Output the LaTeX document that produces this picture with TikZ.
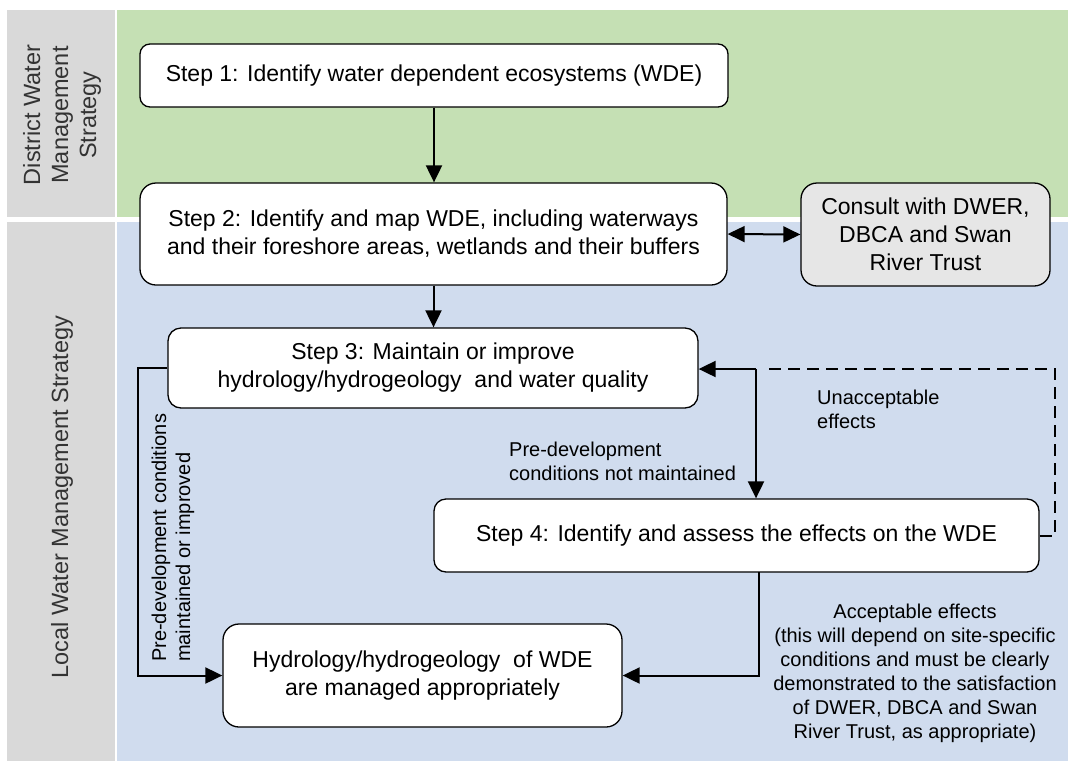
\documentclass[tikz,border=0pt]{standalone}
\usepackage{fontspec}
\setmainfont{Liberation Sans}
\usetikzlibrary{arrows.meta}

\definecolor{bandgreen}{HTML}{C5E0B4}
\definecolor{bandblue}{HTML}{D0DCEE}
\definecolor{bandgray}{HTML}{D9D9D9}
\definecolor{consultgray}{HTML}{E6E6E6}
\definecolor{sidetext}{HTML}{333333}

\newcommand\boxfont{\fontsize{23}{28}\selectfont}
\newcommand\sidefont{\fontsize{23.5}{28}\selectfont}
\newcommand\lblfont{\fontsize{20}{24}\selectfont}

\begin{document}
\begin{tikzpicture}[x=1pt, y=-1pt,
  stepbox/.style={draw, line width=1.3pt, fill=white, align=center,
                  font=\boxfont, inner sep=0pt},
  lbl/.style={font=\lblfont, inner sep=0pt},
  side/.style={font=\sidefont, text=sidetext, inner sep=0pt, align=center},
  conn/.style={line width=2pt, -{Triangle[length=17pt,width=16pt]}},
  biconn/.style={line width=2pt, {Triangle[length=17pt,width=16pt]}-{Triangle[length=17pt,width=16pt]}},
  dashconn/.style={line width=2pt, dash pattern=on 12pt off 7pt}]

% page and background bands
\useasboundingbox (0,0) rectangle (1068,761);
\fill[white] (0,0) rectangle (1068,761);
\fill[bandgray] (7,10) rectangle (115,217);
\fill[bandgray] (7,222) rectangle (115,761);
\fill[bandgreen] (117,10) rectangle (1068,217);
\fill[bandblue] (117,222) rectangle (1068,761);

% strategy labels
\node[side, rotate=90] (dws) at (62,115) {District Water\\Management\\Strategy};
\node[side, rotate=90] (lws) at (62,497) {Local Water Management Strategy};

% process boxes
\node[stepbox, minimum width=588pt, minimum height=63pt, rounded corners=10pt]
  (s1) at (434,75.5) {Step 1: Identify water dependent ecosystems (WDE)};
\node[stepbox, minimum width=587pt, minimum height=102pt, rounded corners=16pt]
  (s2) at (433.5,234) {Step 2: Identify and map WDE, including waterways\\and their foreshore areas, wetlands and their buffers};
\node[stepbox, fill=consultgray, minimum width=249pt, minimum height=103pt, rounded corners=16pt]
  (dw) at (925.5,234.5) {Consult with DWER,\\DBCA and Swan\\River Trust};
\node[stepbox, minimum width=530pt, minimum height=80pt, rounded corners=13pt]
  (s3) at (433,368) {Step 3: Maintain or improve\\hydrology/hydrogeology\ \ and water quality};
\node[stepbox, minimum width=605pt, minimum height=73pt, rounded corners=12pt]
  (s4) at (736.5,535.5) {Step 4: Identify and assess the effects on the WDE};
\node[stepbox, minimum width=399pt, minimum height=103pt, rounded corners=16pt]
  (hy) at (422.5,675.5) {Hydrology/hydrogeology\ \ of WDE\\are managed appropriately};

% routing points
\coordinate (j) at (756,369);
\coordinate (lp) at (138,368);
\coordinate (dc) at (1055,369);
\coordinate (de) at (767,369);
\coordinate (s4out) at (759,572);

% connectors
\draw[conn] (s1.south) -- (s1.south |- s2.north);
\draw[conn] (s2.south) -- (s2.south |- s3.north);
\draw[biconn] (s2.east) -- (dw.west);
\draw[conn] (j) -- (j -| s3.east);
\draw[conn] (j) -- (j |- s4.north);
\draw[dashconn] (s4.east) -| (dc) -- (de);
\draw[conn] (s3.west) -- (lp) |- (hy.west);
\draw[conn] (s4out) |- (hy.east);

% connector labels
\node[lbl, anchor=west, align=left] (lnm) at (509,461) {Pre-development\\conditions not maintained};
\node[lbl, anchor=west, align=left] (lun) at (817,409) {Unacceptable\\effects};
\node[lbl, align=center] (lac) at (915,673) {Acceptable effects\\(this will depend on site-specific\\conditions and must be clearly\\demonstrated to the satisfaction\\of DWER, DBCA and Swan\\River Trust, as appropriate)};
\node[lbl, rotate=90, anchor=west, align=left] (lmi) at (173,662) {Pre-development conditions\\maintained or improved};

\end{tikzpicture}
\end{document}
